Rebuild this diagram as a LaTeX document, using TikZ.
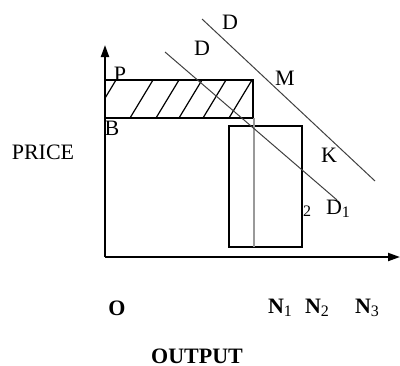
\documentclass[tikz,border=0pt]{standalone}
\usepackage{fontspec}
\setmainfont{Liberation Serif}
\usetikzlibrary{arrows.meta}
\newcommand{\lowidx}[1]{\raisebox{-0.35ex}{\footnotesize #1}}

\begin{document}
\begin{tikzpicture}[x=0.5pt,y=-0.5pt,font=\fontsize{11}{13}\selectfont,
		axis/.style={line width=1pt,-{Triangle[length=6pt,width=4pt]}},
		box/.style={line width=0.75pt},
		demand/.style={black!75,line width=0.5pt}]
	\useasboundingbox (0,0) rectangle (400,365);
	\coordinate (O) at (105,257);
	\draw[axis] (O) -- (105,45);
	\draw[axis] (O) -- (400,257);
	% shaded strip
	\begin{scope}
		\clip (105,80) rectangle (253,118);
		\foreach \x in {93,130,156,179,203,229}
		\draw[line width=0.6pt] (\x,118) -- ++(23,-38);
	\end{scope}
	\draw[box] (105,80) rectangle (253,118);
	\draw[box] (229,126) rectangle (302,247);
	\draw[black!40,line width=1.2pt] (254,118) -- (254,247);
	% demand curves
	\draw[demand] (165,52) -- (337,200);
	\draw[demand] (202,19) -- (375,181);
	\node (d0) at (230,22) {D};
	\node (d1) at (202,48) {D};
	\node (p) at (120,74) {P};
	\node (b) at (112,128) {B};
	\node (m) at (285,78) {M};
	\node (k) at (329,155) {K};
	\node (d2) at (338,209) {D\lowidx{1}};
	\node (two) at (307,211) {\footnotesize 2};
	\node (price) at (43,152) {PRICE};
	\node (o) at (117,308) {\textbf{O}};
	\node (n1) at (280,308) {\textbf{N}\lowidx{1}};
	\node (n2) at (317,308) {\textbf{N}\lowidx{2}};
	\node (n3) at (367,308) {\textbf{N}\lowidx{3}};
	\node (output) at (197,356) {\textbf{OUTPUT}};
\end{tikzpicture}
\end{document}
